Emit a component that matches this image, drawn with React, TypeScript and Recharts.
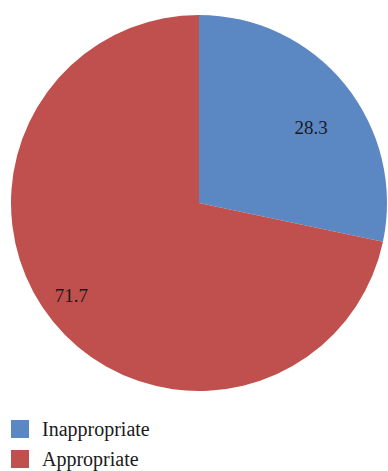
import React from 'react';
import { PieChart, Pie, Cell } from 'recharts';

// Share of responses (%)
const categories = ['Inappropriate', 'Appropriate'];
const shares = [28.3, 71.7];
const colors = ['#5B87C3', '#C0504D'];

// how far out along the radius each label sits (fraction of outer radius)
const labelRadius = [0.72, 0.84];
const labelAngleShift = [-5, -3];

const data = categories.map((name, i) => ({ name, value: shares[i] }));

const RADIAN = Math.PI / 180;
const FONT = '"Liberation Serif", "DejaVu Serif", serif';

const renderLabel = (props: any) => {
  const { cx, cy, midAngle, outerRadius, index, value } = props;
  const r = outerRadius * labelRadius[index];
  const a = (midAngle + labelAngleShift[index]) * RADIAN;
  const x = cx + r * Math.cos(a);
  const y = cy - r * Math.sin(a);
  return (
    <text x={x} y={y} fill="#1a1a1a" fontSize={19} fontFamily={FONT} textAnchor="middle" dominantBaseline="central">
      {value.toFixed(1)}
    </text>
  );
};

const App: React.FC = () => {
  return (
    <div style={{ position: 'absolute', left: 0, top: 0, width: 388, height: 471, background: '#fff' }}>
      <PieChart width={388} height={410} margin={{ top: 0, right: 0, bottom: 0, left: 0 }}>
        <Pie
          data={data}
          dataKey="value"
          nameKey="name"
          cx={199}
          cy={203}
          outerRadius={188}
          startAngle={90}
          endAngle={-270}
          stroke="none"
          label={renderLabel}
          labelLine={false}
          isAnimationActive={false}
        >
          {data.map((d, i) => (
            <Cell key={d.name} fill={colors[i]} />
          ))}
        </Pie>
      </PieChart>
      {/* legend */}
      <div style={{ position: 'absolute', left: 11, top: 414, fontFamily: FONT, fontSize: 20, color: '#1a1a1a' }}>
        {categories.map((name, i) => (
          <div key={name} style={{ display: 'flex', alignItems: 'center', height: 30 }}>
            <span style={{ display: 'inline-block', width: 18, height: 18, background: colors[i], marginRight: 13 }} />
            <span>{name}</span>
          </div>
        ))}
      </div>
    </div>
  );
};

export default App;
